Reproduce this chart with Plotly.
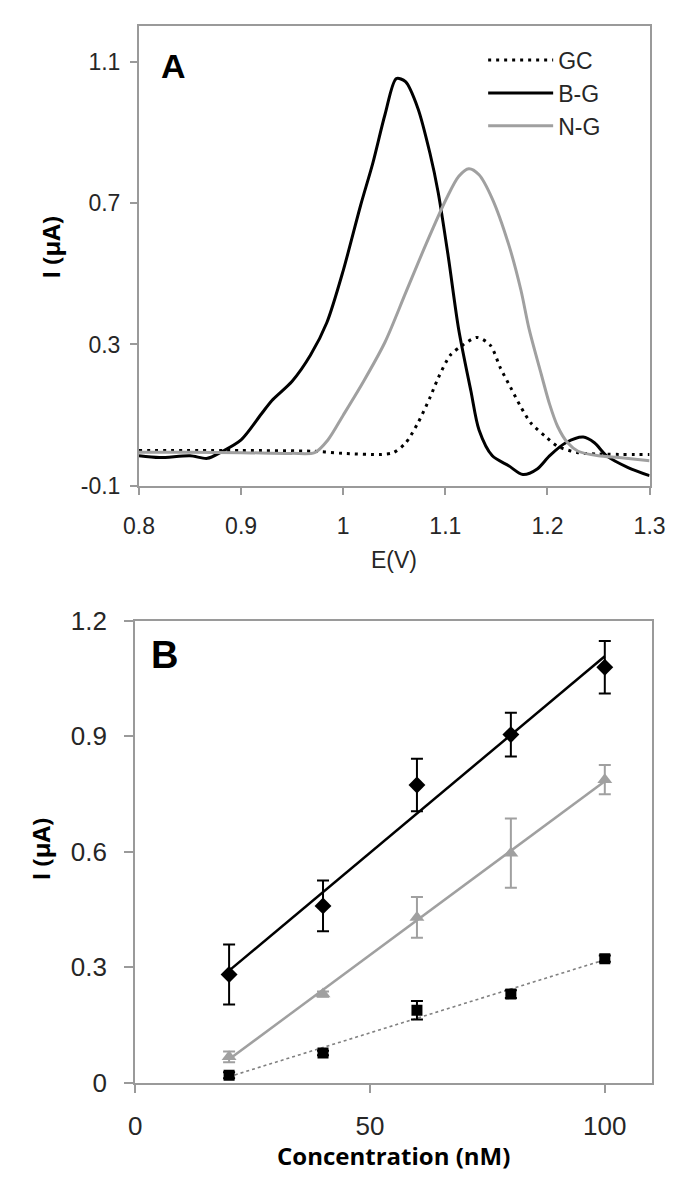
import numpy as np
import plotly.graph_objects as go

# ---------- Panel A data (differential pulse voltammograms) ----------
E_gc = [0.80, 0.90, 0.97, 1.00, 1.037, 1.049, 1.061, 1.073, 1.085, 1.093, 1.105, 1.117,
        1.131, 1.144, 1.154, 1.164, 1.174, 1.184, 1.198, 1.21, 1.23, 1.25, 1.30]
I_gc = [0.0, 0.0, -0.002, -0.008, -0.011, -0.006, 0.021, 0.077, 0.15, 0.205, 0.27, 0.298,
        0.32, 0.298, 0.233, 0.178, 0.123, 0.077, 0.04, 0.012, -0.006, -0.01, -0.011]

E_bg = [0.80, 0.82, 0.85, 0.867, 0.88, 0.90, 0.92, 0.93, 0.95, 0.968, 0.984, 1.00, 1.017,
        1.029, 1.041, 1.052, 1.061, 1.073, 1.085, 1.093, 1.103, 1.113, 1.125, 1.133, 1.146,
        1.162, 1.176, 1.19, 1.202, 1.218, 1.235, 1.246, 1.258, 1.279, 1.30]
I_bg = [-0.015, -0.02, -0.015, -0.022, -0.005, 0.03, 0.104, 0.141, 0.196, 0.27, 0.362, 0.509,
        0.693, 0.813, 0.951, 1.052, 1.043, 0.969, 0.84, 0.73, 0.546, 0.344, 0.169, 0.058,
        -0.015, -0.043, -0.068, -0.052, -0.015, 0.022, 0.038, 0.022, -0.015, -0.048, -0.071]

E_ng = [0.80, 0.85, 0.90, 0.95, 0.972, 0.985, 1.00, 1.02, 1.041, 1.061, 1.081, 1.101, 1.113,
        1.123, 1.133, 1.146, 1.162, 1.174, 1.182, 1.194, 1.202, 1.21, 1.22, 1.23, 1.25, 1.27, 1.30]
I_ng = [-0.005, -0.005, -0.006, -0.008, -0.006, 0.03, 0.1, 0.196, 0.307, 0.445, 0.583, 0.712,
        0.775, 0.797, 0.78, 0.712, 0.583, 0.454, 0.344, 0.215, 0.132, 0.068, 0.021, -0.002,
        -0.015, -0.02, -0.029]

xticks_A = [0.8, 0.9, 1.0, 1.1, 1.2, 1.3]
xticklabels_A = ["0.8", "0.9", "1", "1.1", "1.2", "1.3"]
yticks_A = [-0.1, 0.3, 0.7, 1.1]
yticklabels_A = ["-0.1", "0.3", "0.7", "1.1"]

# ---------- Panel B data (calibration) ----------
conc = [20, 40, 60, 80, 100]
bg = [0.281, 0.459, 0.773, 0.904, 1.079]
bg_err = [0.078, 0.066, 0.068, 0.057, 0.068]
ng = [0.067, 0.230, 0.429, 0.596, 0.787]
ng_err = [0.014, 0.007, 0.053, 0.090, 0.038]
gc = [0.019, 0.077, 0.188, 0.230, 0.322]
gc_err = [0.008, 0.006, 0.024, 0.010, 0.008]

xticks_B = [0, 50, 100]
yticks_B = [0, 0.3, 0.6, 0.9, 1.2]
yticklabels_B = ["0", "0.3", "0.6", "0.9", "1.2"]

# ---------- styling ----------
W, H = 675, 1178
TICKFONT = "Liberation Sans, Arial, sans-serif"
BOLD = "Open Sans, Arial, sans-serif"
BLACK = "#000000"
GRAY = "#a0a0a0"
FRAME = "#9a9a9a"
TXT = "#262626"


def px_x(p):
    return p / W


def px_y(p):
    return 1 - p / H


fig = go.Figure()

# Panel A traces
fig.add_trace(go.Scatter(x=E_gc, y=I_gc, mode="lines", name="GC",
                         line=dict(color=BLACK, width=3, dash="3px,5px", shape="spline", smoothing=0.8),
                         xaxis="x", yaxis="y"))
fig.add_trace(go.Scatter(x=E_bg, y=I_bg, mode="lines", name="B-G",
                         line=dict(color=BLACK, width=3, shape="spline", smoothing=0.8),
                         xaxis="x", yaxis="y"))
fig.add_trace(go.Scatter(x=E_ng, y=I_ng, mode="lines", name="N-G",
                         line=dict(color=GRAY, width=3, shape="spline", smoothing=0.8),
                         xaxis="x", yaxis="y"))

# Panel B trendlines (least squares fits of the data)
xfit = np.array([conc[0], conc[-1]])
for vals, col, dash, w in [(bg, BLACK, "solid", 2.5), (ng, GRAY, "solid", 2.5), (gc, "#808080", "3px,3px", 1.6)]:
    k, b = np.polyfit(conc, vals, 1)
    fig.add_trace(go.Scatter(x=xfit, y=k * xfit + b, mode="lines", showlegend=False,
                             line=dict(color=col, width=w, dash=dash), xaxis="x2", yaxis="y2",
                             hoverinfo="skip"))

# Panel B points
fig.add_trace(go.Scatter(x=conc, y=bg, mode="markers", showlegend=False,
                         marker=dict(symbol="diamond", size=13, color=BLACK),
                         error_y=dict(type="data", array=bg_err, color=BLACK, thickness=2, width=6),
                         xaxis="x2", yaxis="y2"))
fig.add_trace(go.Scatter(x=conc, y=ng, mode="markers", showlegend=False,
                         marker=dict(symbol="triangle-up", size=13, color=GRAY),
                         error_y=dict(type="data", array=ng_err, color=GRAY, thickness=2, width=6),
                         xaxis="x2", yaxis="y2"))
fig.add_trace(go.Scatter(x=conc, y=gc, mode="markers", showlegend=False,
                         marker=dict(symbol="square", size=11, color=BLACK),
                         error_y=dict(type="data", array=gc_err, color=BLACK, thickness=2, width=6),
                         xaxis="x2", yaxis="y2"))

axis_common = dict(showline=True, linecolor=FRAME, linewidth=2, mirror=True, showgrid=False,
                   zeroline=False, ticks="outside", tickcolor=FRAME, tickwidth=2)

fig.update_layout(
    width=W, height=H,
    margin=dict(l=0, r=0, t=0, b=0),
    paper_bgcolor="white", plot_bgcolor="white",
    xaxis=dict(domain=[px_x(120.7), px_x(656.7)], range=[0.8, 1.3], anchor="y",
               tickvals=xticks_A, ticktext=xticklabels_A, ticklen=7, ticklabelstandoff=11,
               tickfont=dict(family=TICKFONT, size=23, color=TXT), **axis_common),
    yaxis=dict(domain=[px_y(475), px_y(3.3)], range=[-0.1, 1.2], anchor="x",
               tickvals=yticks_A, ticktext=yticklabels_A, ticklen=7, ticklabelstandoff=5,
               tickfont=dict(family=TICKFONT, size=23, color=TXT), **axis_common),
    xaxis2=dict(domain=[px_x(116.7), px_x(659)], range=[0, 110], anchor="y2",
                tickvals=xticks_B, ticklen=8, ticklabelstandoff=11,
                tickfont=dict(family=TICKFONT, size=26, color=TXT), **axis_common),
    yaxis2=dict(domain=[px_y(1087.3), px_y(613.3)], range=[0, 1.2], anchor="x2",
                tickvals=yticks_B, ticktext=yticklabels_B, ticklen=9, ticklabelstandoff=12,
                tickfont=dict(family=TICKFONT, size=26, color=TXT), **axis_common),
    legend=dict(x=px_x(482), y=px_y(16), xanchor="left", yanchor="top",
                bgcolor="rgba(0,0,0,0)", itemwidth=65, tracegroupgap=0,
                font=dict(family=TICKFONT, size=23, color=TXT)),
    showlegend=True,
)

annotations = [
    dict(text="<b>A</b>", x=px_x(157), y=px_y(44), font=dict(family="Liberation Sans, Arial, sans-serif", size=34, color=BLACK)),
    dict(text="<b>B</b>", x=px_x(147), y=px_y(649), font=dict(family="Liberation Sans, Arial, sans-serif", size=38, color=BLACK)),
    dict(text="<b>I (µA)</b>", x=px_x(27), y=px_y(230), textangle=-90, font=dict(family=BOLD, size=24, color=BLACK)),
    dict(text="<b>I (µA)</b>", x=px_x(17), y=px_y(848), textangle=-90, font=dict(family=BOLD, size=24, color=BLACK)),
    dict(text="E(V)", x=px_x(388), y=px_y(551), font=dict(family=TICKFONT, size=23, color=TXT)),
    dict(text="<b>Concentration (nM)</b>", x=px_x(388), y=px_y(1162), font=dict(family=BOLD, size=24, color=BLACK)),
]
for a in annotations:
    a.update(xref="paper", yref="paper", showarrow=False, xanchor="center", yanchor="middle")
fig.update_layout(annotations=annotations)

fig.write_html("out.html")
